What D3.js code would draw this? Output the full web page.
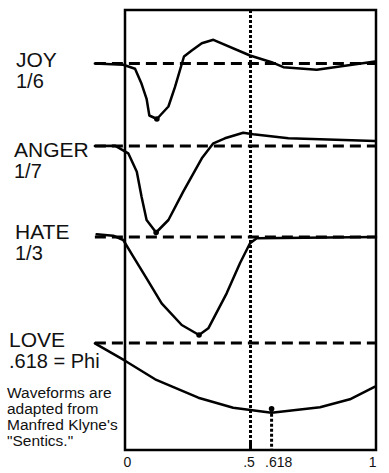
<!DOCTYPE html>
<html>
<head>
<meta charset="utf-8">
<script src="https://cdn.jsdelivr.net/npm/d3@7/dist/d3.min.js"></script>
<style>
  html, body { margin: 0; padding: 0; background: #fff; }
  svg { display: block; }
  text { font-family: "Liberation Sans", Arial, sans-serif; fill: #111; }
</style>
</head>
<body>
<svg id="chart" width="389" height="473"></svg>
<script>
// ---- data ----
const emotions = ["JOY", "ANGER", "HATE", "LOVE"];
const ratioLabels = ["1/6", "1/7", "1/3", ".618 = Phi"];
// baseline level of each waveform (chart y units)
const baselines = [38.65, 30.4, 21.3, 10.7];
// waveform samples: x (0..1 time, negative = lead-in), amplitude relative to baseline
const joyX   = [-0.12, -0.007, 0.04, 0.066, 0.086, 0.097, 0.127, 0.173, 0.199, 0.235, 0.266, 0.306, 0.352, 0.498, 0.584, 0.631, 0.764, 0.996];
const joyY   = [0, -0.13, -0.53, -2.03, -3.53, -5.2, -5.55, -4.3, -2.37, 0.7, 1.3, 2.03, 2.37, 0.8, 0.13, -0.37, -0.63, 0.2];
const angerX = [-0.12, -0.04, 0.013, 0.047, 0.066, 0.086, 0.124, 0.173, 0.232, 0.306, 0.352, 0.398, 0.471, 0.511, 0.651, 0.996];
const angerY = [0, 0.03, -0.73, -2.57, -5.07, -7.4, -8.65, -7.4, -4.57, -1.23, 0.27, 0.77, 1.33, 1.17, 0.77, 0.5];
const hateX  = [-0.113, -0.047, -0.007, 0.033, 0.086, 0.146, 0.226, 0.295, 0.332, 0.405, 0.458, 0.498, 0.525, 1.0];
const hateY  = [0.27, 0.13, -0.3, -1.97, -4.13, -6.63, -8.8, -9.8, -9.13, -5.63, -2.63, -0.63, -0.13, 0];
const loveX  = [-0.12, 0, 0.12, 0.292, 0.431, 0.584, 0.777, 0.896, 0.996];
const loveY  = [-0.03, -1.77, -3.63, -5.47, -6.47, -6.97, -6.43, -5.63, -4.37];
// marked extremes
const markX = [0.127, 0.124, 0.295, 0.584];
const markY = [-5.55, -8.65, -9.8, -6.57];
const leadStart = -0.12;
// axis ticks
const tickValues = [0, 0.5, 0.618, 1];
const tickLabels = ["0", ".5", ".618", "1"];
const noteLines = ["Waveforms are", "adapted from", "Manfred Klyne's", "\"Sentics.\""];

// ---- drawing ----
const svg = d3.select("#chart");
const x = d3.scaleLinear().domain([0, 1]).range([125, 376]);
const y = d3.scaleLinear().domain([0, 44]).range([450, 10]);

const seriesX = [joyX, angerX, hateX, loveX];
const seriesY = [joyY, angerY, hateY, loveY];

// dashed baselines
svg.selectAll("line.base").data(baselines).join("line")
  .attr("class", "base")
  .attr("x1", x(leadStart)).attr("x2", x(1))
  .attr("y1", d => y(d)).attr("y2", d => y(d))
  .attr("stroke", "#000").attr("stroke-width", 3)
  .attr("stroke-dasharray", "11,6");

// frame
svg.append("rect")
  .attr("x", x(0)).attr("y", y(44))
  .attr("width", x(1) - x(0)).attr("height", y(0) - y(44))
  .attr("fill", "none").attr("stroke", "#000").attr("stroke-width", 2.5);

// dotted .5 line
svg.append("line")
  .attr("x1", x(0.5)).attr("x2", x(0.5))
  .attr("y1", y(44)).attr("y2", y(0))
  .attr("stroke", "#000").attr("stroke-width", 3)
  .attr("stroke-dasharray", "3,2");

// dotted phi line from love mark down
svg.append("line")
  .attr("x1", x(markX[3])).attr("x2", x(markX[3]))
  .attr("y1", y(baselines[3] + markY[3])).attr("y2", y(0))
  .attr("stroke", "#000").attr("stroke-width", 3)
  .attr("stroke-dasharray", "3,2");

// waveforms
const line = d3.line().x(d => x(d[0])).y(d => y(d[1])).curve(d3.curveLinear);
seriesX.forEach((xs, i) => {
  const pts = xs.map((v, j) => [v, baselines[i] + seriesY[i][j]]);
  svg.append("path").attr("d", line(pts))
    .attr("fill", "none").attr("stroke", "#000")
    .attr("stroke-width", 2.5).attr("stroke-linejoin", "round").attr("stroke-linecap", "round");
});

// marks
svg.selectAll("circle.mark").data(markX).join("circle")
  .attr("class", "mark")
  .attr("cx", d => x(d))
  .attr("cy", (d, i) => y(baselines[i] + markY[i]))
  .attr("r", 2.8).attr("fill", "#000");

// axis
const axis = d3.axisBottom(x).tickValues(tickValues)
  .tickFormat((d, i) => tickLabels[i]).tickSize(0).tickPadding(7);
const gAxis = svg.append("g").attr("transform", `translate(0,${y(0)})`).call(axis);
gAxis.attr("font-size", 14).attr("font-family", "'Liberation Sans', Arial, sans-serif");
gAxis.select(".domain").remove();
gAxis.selectAll("text")
  .attr("font-size", 14).style("font-size", "14px").attr("fill", "#111")
  .attr("text-anchor", (d, i) => i === 0 ? "start" : (i === tickValues.length - 1 ? "end" : "middle"))
  .attr("dx", (d, i) => (i === 0 ? -2 : (i === tickValues.length - 1 ? 0 : -2)));
// inner tick at .5
svg.append("line")
  .attr("x1", x(0.5)).attr("x2", x(0.5))
  .attr("y1", y(0) - 8).attr("y2", y(0))
  .attr("stroke", "#000").attr("stroke-width", 3);

// labels
const labelX = [16, 14, 15, 9];
const nameBase = [67, 157, 239, 347];
emotions.forEach((e, i) => {
  svg.append("text").attr("x", labelX[i]).attr("y", nameBase[i])
    .attr("font-size", 21).text(e);
  svg.append("text").attr("x", labelX[i]).attr("y", nameBase[i] + 21)
    .attr("font-size", 20).text(ratioLabels[i]);
});
noteLines.forEach((t, i) => {
  svg.append("text").attr("x", 7).attr("y", 398 + i * 16)
    .attr("font-size", 15.5).text(t);
});
</script>
</body>
</html>
